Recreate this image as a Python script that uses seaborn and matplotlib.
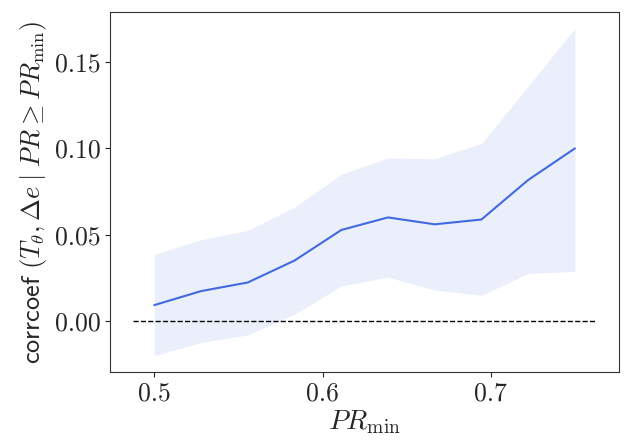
import matplotlib
matplotlib.use("Agg")
import matplotlib.pyplot as plt
import numpy as np
import pandas as pd
import seaborn as sns

# PR_min thresholds and correlation stats
pr_min = np.linspace(0.5, 0.75, 10)
corr_mean = [0.0092, 0.0173, 0.0223, 0.0350, 0.0527, 0.0600, 0.0560, 0.0588, 0.0817, 0.1000]
corr_upper = [0.0385, 0.0471, 0.0525, 0.0660, 0.0850, 0.0944, 0.0940, 0.1029, 0.1360, 0.1696]
corr_lower = [-0.0202, -0.0125, -0.0081, 0.0039, 0.0202, 0.0254, 0.0179, 0.0148, 0.0275, 0.0287]

df = pd.DataFrame({"pr_min": pr_min, "mean": corr_mean, "upper": corr_upper, "lower": corr_lower})

sns.set_style("ticks")
plt.rcParams["font.family"] = "serif"
plt.rcParams["font.serif"] = ["cmr10"]
plt.rcParams["mathtext.fontset"] = "cm"
plt.rcParams["axes.unicode_minus"] = False
plt.rcParams["axes.formatter.use_mathtext"] = True

fig, ax = plt.subplots(figsize=(6.33, 4.41), dpi=100)
fig.subplots_adjust(left=0.174, right=0.978, bottom=0.156, top=0.973)

ax.fill_between(df["pr_min"], df["lower"], df["upper"], color="royalblue", alpha=0.1, linewidth=0)
sns.lineplot(data=df, x="pr_min", y="mean", color="royalblue", linewidth=1.5, ax=ax)
ax.hlines(0, df["pr_min"].min() - 0.0125, df["pr_min"].max() + 0.0125,
          colors="k", linestyles="--", linewidth=1)

ax.set_xticks([0.5, 0.6, 0.7])
ax.set_xticklabels(["0.5", "0.6", "0.7"])
ax.set_yticks([0.0, 0.05, 0.10, 0.15])
ax.set_yticklabels(["0.00", "0.05", "0.10", "0.15"])
ax.tick_params(labelsize=18.5)
for sp in ax.spines.values():
    sp.set_color("#333333")

ax.set_xlabel(r"$PR_{\rm min}$", fontsize=20, labelpad=2)
ax.set_ylabel(r"$\mathsf{corrcoef}\ (T_\theta, \Delta e\;|\;PR \geq PR_{\rm min})$", fontsize=19, labelpad=4)

fig.savefig("out.png", dpi=100)
